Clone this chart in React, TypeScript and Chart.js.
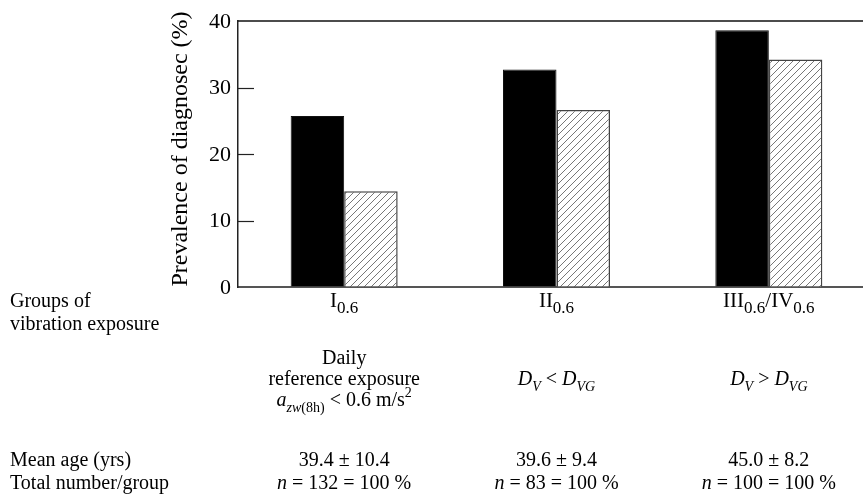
import React, { useEffect, useRef } from 'react';
import { Chart, registerables } from 'chart.js';

Chart.register(...registerables);

// ---- data ----
const categories = ['I', 'II', 'III/IV'];
const blackSeries = [25.7, 32.7, 38.6];
const hatchedSeries = [14.4, 26.6, 34.2];
const yTickValues = [0, 10, 20, 30, 40];
const meanAges = ['39.4 ± 10.4', '39.6 ± 9.4', '45.0 ± 8.2'];
const groupTotals = ['132', '83', '100'];
const yTitle = 'Prevalence of diagnosec (%)';
const rowLabelsTop = ['Groups of', 'vibration exposure'];
const rowLabelsBottom = ['Mean age (yrs)', 'Total number/group'];

type Seg = { t: string; i?: boolean; s?: 'sub' | 'sup' };

const FONT = '"Liberation Serif", "Times New Roman", serif';
const SIZE = 20;

function segFont(seg: Seg, size: number, subRatio: number) {
  const sz = seg.s ? Math.round(size * subRatio) : size;
  return `${seg.i ? 'italic ' : ''}${sz}px ${FONT}`;
}

function drawRich(
  ctx: CanvasRenderingContext2D,
  segs: Seg[],
  x: number,
  y: number,
  align: 'left' | 'center' | 'right',
  size = SIZE,
  subRatio = 0.72
) {
  let w = 0;
  for (const s of segs) {
    ctx.font = segFont(s, size, subRatio);
    w += ctx.measureText(s.t).width;
  }
  let cx = align === 'center' ? x - w / 2 : align === 'right' ? x - w : x;
  ctx.textAlign = 'left';
  ctx.textBaseline = 'alphabetic';
  for (const s of segs) {
    ctx.font = segFont(s, size, subRatio);
    const dy = s.s === 'sub' ? size * 0.3 : s.s === 'sup' ? -size * 0.45 : 0;
    ctx.fillText(s.t, cx, y + dy);
    cx += ctx.measureText(s.t).width;
  }
}

function categorySegs(cat: string): Seg[] {
  const parts = cat.split('/');
  const out: Seg[] = [];
  parts.forEach((p, idx) => {
    if (idx > 0) out.push({ t: '/' });
    out.push({ t: p });
    out.push({ t: '0.6', s: 'sub' });
  });
  return out;
}

const conditionRows: Seg[][][] = [
  [
    [{ t: 'Daily' }],
    [{ t: 'reference exposure' }],
    [{ t: 'a', i: true }, { t: 'zw', i: true, s: 'sub' }, { t: '(8h)', s: 'sub' }, { t: ' < 0.6 m/s' }, { t: '2', s: 'sup' }],
  ],
  [[{ t: 'D', i: true }, { t: 'V', i: true, s: 'sub' }, { t: ' < ' }, { t: 'D', i: true }, { t: 'VG', i: true, s: 'sub' }]],
  [[{ t: 'D', i: true }, { t: 'V', i: true, s: 'sub' }, { t: ' > ' }, { t: 'D', i: true }, { t: 'VG', i: true, s: 'sub' }]],
];

const annotationPlugin = {
  id: 'annotations',
  afterDraw(chart: any) {
    const ctx: CanvasRenderingContext2D = chart.ctx;
    const { left, right, top, bottom } = chart.chartArea;
    const ys = chart.scales.y;
    const xs = chart.scales.x;
    ctx.save();
    // top frame line
    const yTop = ys.getPixelForValue(ys.max);
    ctx.strokeStyle = '#111';
    ctx.lineWidth = 1.5;
    ctx.beginPath();
    ctx.moveTo(left, yTop);
    ctx.lineTo(right, yTop);
    ctx.stroke();
    // inner ticks
    ctx.strokeStyle = '#222';
    ctx.lineWidth = 1.2;
    for (const v of yTickValues) {
      if (v === ys.min || v === ys.max) continue;
      const py = Math.round(ys.getPixelForValue(v)) + 0.5;
      ctx.beginPath();
      ctx.moveTo(left, py);
      ctx.lineTo(left + 16, py);
      ctx.stroke();
    }
    // tick labels
    ctx.fillStyle = '#000';
    ctx.font = `22px ${FONT}`;
    ctx.textAlign = 'right';
    ctx.textBaseline = 'middle';
    for (const v of yTickValues) {
      ctx.fillText(String(v), left - 7, ys.getPixelForValue(v) + 1);
    }
    // y title
    ctx.save();
    ctx.translate(181, (top + bottom) / 2 - 5);
    ctx.rotate(-Math.PI / 2);
    ctx.textAlign = 'center';
    ctx.textBaseline = 'middle';
    ctx.font = `24px ${FONT}`;
    ctx.fillText(yTitle, 0, 0);
    ctx.restore();

    // left row labels
    ctx.fillStyle = '#000';
    drawRich(ctx, [{ t: rowLabelsTop[0] }], 10, 307, 'left');
    drawRich(ctx, [{ t: rowLabelsTop[1] }], 10, 330, 'left');
    drawRich(ctx, [{ t: rowLabelsBottom[0] }], 10, 466, 'left');
    drawRich(ctx, [{ t: rowLabelsBottom[1] }], 10, 489, 'left');

    categories.forEach((cat, i) => {
      const cx = xs.getPixelForValue(i);
      drawRich(ctx, categorySegs(cat), cx, 307, 'center', 21, 0.8);
      const cond = conditionRows[i];
      if (cond.length === 3) {
        drawRich(ctx, cond[0], cx, 364, 'center');
        drawRich(ctx, cond[1], cx, 385, 'center');
        drawRich(ctx, cond[2], cx, 406, 'center');
      } else {
        drawRich(ctx, cond[0], cx, 385, 'center');
      }
      drawRich(ctx, [{ t: meanAges[i] }], cx, 466, 'center');
      drawRich(ctx, [{ t: 'n', i: true }, { t: ` = ${groupTotals[i]} = 100 %` }], cx, 489, 'center');
    });
    ctx.restore();
  },
};

function makeHatch(): CanvasPattern | string {
  const n = 7;
  const c = document.createElement('canvas');
  c.width = n;
  c.height = n;
  const g = c.getContext('2d');
  if (!g) return '#fff';
  g.fillStyle = '#fff';
  g.fillRect(0, 0, n, n);
  g.strokeStyle = '#777';
  g.lineWidth = 1;
  g.beginPath();
  g.moveTo(0, n);
  g.lineTo(n, 0);
  g.moveTo(-1, 1);
  g.lineTo(1, -1);
  g.moveTo(n - 1, n + 1);
  g.lineTo(n + 1, n - 1);
  g.stroke();
  const p = g.createPattern(c, 'repeat');
  return p || '#fff';
}

export default function App() {
  const ref = useRef<HTMLCanvasElement>(null);
  useEffect(() => {
    const canvas = ref.current;
    if (!canvas) return;
    const hatch = makeHatch();
    const chart = new Chart(canvas, {
      type: 'bar',
      data: {
        labels: categories,
        datasets: [
          {
            data: blackSeries,
            backgroundColor: '#000',
            borderColor: '#111',
            borderWidth: 1,
          },
          {
            data: hatchedSeries,
            backgroundColor: hatch as any,
            borderColor: '#444',
            borderWidth: 1.5,
          },
        ],
      },
      options: {
        responsive: false,
        animation: false,
        devicePixelRatio: 1,
        layout: { padding: { left: 238, top: 21, bottom: 208, right: 0 } },
        datasets: { bar: { categoryPercentage: 0.504, barPercentage: 1 } },
        plugins: { legend: { display: false }, tooltip: { enabled: false } },
        scales: {
          x: {
            type: 'category',
            offset: true,
            ticks: { display: false },
            grid: { display: true, drawOnChartArea: false, drawTicks: false },
            border: { display: true, color: '#555', width: 2 },
          },
          y: {
            min: 0,
            max: 40,
            ticks: { display: false, stepSize: 10 },
            grid: { display: true, drawOnChartArea: false, drawTicks: false },
            border: { display: true, color: '#222', width: 1.5 },
          },
        },
      },
      plugins: [annotationPlugin],
    });
    return () => chart.destroy();
  }, []);
  return (
    <div style={{ position: 'absolute', left: 0, top: 0, width: 863, height: 495, overflow: 'hidden', background: '#fff' }}>
      <canvas ref={ref} width={875} height={495} style={{ display: 'block', width: 875, height: 495 }} />
    </div>
  );
}
